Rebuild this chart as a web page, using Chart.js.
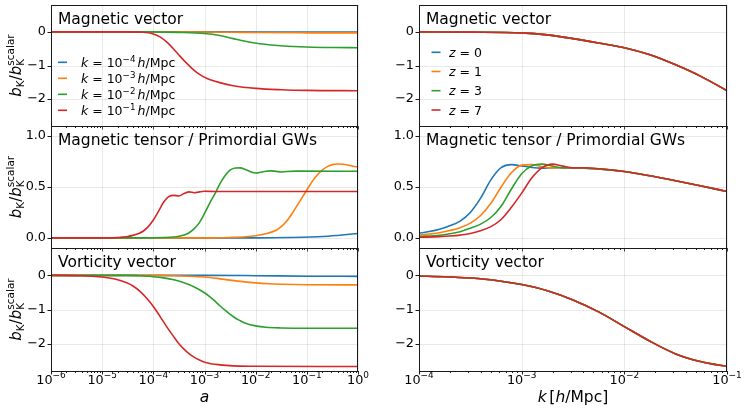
<!DOCTYPE html>
<html>
<head>
<meta charset="utf-8">
<script src="https://cdn.jsdelivr.net/npm/chart.js@4"></script>
<style>
  html, body { margin: 0; padding: 0; background: #fff; }
  #wrap { position: relative; width: 747px; height: 410px; overflow: hidden; }
  #wrap canvas { position: absolute; left: 0; top: 0; }
</style>
</head>
<body>
<div id="wrap"></div>
<script>
// ---- data (x given as log10 of a or k) ----
const A_TICK_EXP = ['−6', '−5', '−4', '−3', '−2', '−1', '0'];
const A_TICK_LOG = [-6, -5, -4, -3, -2, -1, 0];
const K_TICK_EXP = ['−4', '−3', '−2', '−1'];
const K_TICK_LOG = [-4, -3, -2, -1];
const VEC_Y_TICKS = [-2, -1, 0];
const VEC_Y_LABELS = ['−2', '−1', '0'];
const TEN_Y_TICKS = [0, 0.5, 1.0];
const TEN_Y_LABELS = ['0.0', '0.5', '1.0'];
const K_LEGEND_EXP = ['−4', '−3', '−2', '−1'];
const Z_LEGEND = ['0', '1', '3', '7'];
const COLORS = ['#1f77b4', '#ff7f0e', '#2ca02c', '#d62728'];

// Magnetic vector vs a
const magVecA_k4 = [[-6, 0], [-3, 0], [-1, -0.003], [0, -0.005]];
const magVecA_k3 = [[-6, 0], [-4, 0], [-3, -0.004], [-2.5, -0.01], [-2, -0.02], [-1, -0.028], [0, -0.03]];
const magVecA_k2 = [[-6, 0], [-4, 0], [-3.5, -0.015], [-3, -0.05], [-2.7, -0.11], [-2.44, -0.2], [-2.2, -0.28],
  [-1.98, -0.34], [-1.7, -0.39], [-1.46, -0.42], [-1, -0.45], [-0.5, -0.465], [0, -0.47]];
const magVecA_k1 = [[-6, 0], [-4.5, 0], [-4.2, -0.01], [-4, -0.06], [-3.87, -0.15], [-3.74, -0.3], [-3.61, -0.5],
  [-3.48, -0.72], [-3.35, -0.93], [-3.22, -1.12], [-3.09, -1.27], [-2.96, -1.38], [-2.7, -1.51], [-2.44, -1.6],
  [-2, -1.68], [-1.5, -1.72], [-1, -1.74], [0, -1.75]];

// Magnetic tensor vs a
const magTenA_k4 = [[-6, 0], [-2, 0], [-1.33, 0.003], [-0.68, 0.013], [-0.36, 0.026], [0, 0.043]];
const magTenA_k3 = [[-6, 0], [-3, 0], [-2.5, 0.004], [-2.2, 0.01], [-2, 0.02], [-1.8, 0.04], [-1.6, 0.075],
  [-1.5, 0.11], [-1.4, 0.16], [-1.3, 0.23], [-1.2, 0.31], [-1.1, 0.39], [-1, 0.47], [-0.9, 0.55], [-0.8, 0.615],
  [-0.7, 0.665], [-0.6, 0.7], [-0.5, 0.72], [-0.4, 0.726], [-0.3, 0.724], [-0.2, 0.716], [-0.1, 0.705], [0, 0.695]];
const magTenA_k2 = [[-6, 0], [-4.2, 0], [-3.8, 0.003], [-3.6, 0.008], [-3.5, 0.015], [-3.4, 0.027], [-3.3, 0.05],
  [-3.2, 0.09], [-3.1, 0.15], [-3, 0.24], [-2.9, 0.34], [-2.8, 0.43], [-2.7, 0.53], [-2.6, 0.61], [-2.5, 0.665],
  [-2.4, 0.687], [-2.3, 0.688], [-2.2, 0.672], [-2.1, 0.65], [-2, 0.638], [-1.9, 0.645], [-1.8, 0.655],
  [-1.7, 0.659], [-1.6, 0.654], [-1.5, 0.648], [-1.4, 0.652], [-1.2, 0.656], [0, 0.655]];
const magTenA_k1 = [[-6, 0], [-4.8, 0], [-4.7, 0.003], [-4.6, 0.007], [-4.5, 0.013], [-4.4, 0.024], [-4.3, 0.04],
  [-4.2, 0.065], [-4.1, 0.11], [-4, 0.175], [-3.9, 0.26], [-3.8, 0.35], [-3.7, 0.405], [-3.6, 0.418], [-3.5, 0.412],
  [-3.4, 0.435], [-3.3, 0.452], [-3.2, 0.443], [-3.1, 0.452], [-3, 0.458], [-2.8, 0.456], [0, 0.456]];

// Vorticity vector vs a
const vortA_k4 = [[-6, 0], [-3, 0], [-2, -0.01], [-1, -0.025], [0, -0.03]];
const vortA_k3 = [[-6, 0], [-4, 0], [-3.6, -0.01], [-3.3, -0.025], [-3, -0.05], [-2.75, -0.09], [-2.5, -0.14],
  [-2.25, -0.185], [-2, -0.22], [-1.75, -0.245], [-1.5, -0.26], [-1, -0.275], [0, -0.28]];
const vortA_k2 = [[-6, 0], [-4.5, 0], [-4.2, -0.02], [-4, -0.04], [-3.8, -0.075], [-3.6, -0.13], [-3.4, -0.22],
  [-3.2, -0.34], [-3, -0.51], [-2.9, -0.62], [-2.8, -0.75], [-2.7, -0.89], [-2.6, -1.02], [-2.5, -1.14],
  [-2.4, -1.25], [-2.3, -1.33], [-2.2, -1.4], [-2, -1.48], [-1.8, -1.52], [-1.5, -1.54], [-1, -1.55], [0, -1.55]];
const vortA_k1 = [[-6, 0], [-5.5, -0.01], [-5, -0.05], [-4.75, -0.11], [-4.52, -0.22], [-4.39, -0.32], [-4.26, -0.47],
  [-4.13, -0.67], [-4, -0.91], [-3.87, -1.2], [-3.74, -1.5], [-3.61, -1.78], [-3.48, -2.04], [-3.35, -2.23],
  [-3.22, -2.38], [-3.1, -2.48], [-2.98, -2.55], [-2.7, -2.62], [-2.44, -2.65], [-2, -2.66], [0, -2.67]];

// Magnetic vector vs k (the four redshifts lie on top of each other)
const magVecK_z0 = [[-4, 0], [-3.5, -0.008], [-3, -0.03], [-2.75, -0.09], [-2.5, -0.2], [-2.25, -0.33], [-2, -0.47],
  [-1.75, -0.68], [-1.5, -0.98], [-1.25, -1.33], [-1, -1.75]];
const magVecK_z1 = magVecK_z0;
const magVecK_z3 = magVecK_z0;
const magVecK_z7 = magVecK_z0;

// Magnetic tensor vs k
const magTenK_z0 = [[-4, 0.045], [-3.9, 0.062], [-3.8, 0.085], [-3.7, 0.118], [-3.6, 0.165], [-3.5, 0.25],
  [-3.4, 0.39], [-3.3, 0.57], [-3.2, 0.69], [-3.1, 0.72], [-3, 0.708], [-2.9, 0.692], [-2.8, 0.686], [-2.7, 0.69],
  [-2.6, 0.688], [-2.4, 0.685], [-2.25, 0.678], [-2, 0.652], [-1.75, 0.61], [-1.5, 0.562], [-1.25, 0.51], [-1, 0.456]];
const magTenK_z1 = [[-4, 0.027], [-3.9, 0.037], [-3.8, 0.05], [-3.7, 0.072], [-3.6, 0.1], [-3.5, 0.145], [-3.4, 0.22],
  [-3.3, 0.34], [-3.2, 0.5], [-3.1, 0.64], [-3, 0.715], [-2.9, 0.72], [-2.8, 0.7], [-2.7, 0.688], [-2.6, 0.69],
  [-2.5, 0.69], [-2.4, 0.686], [-2.25, 0.678], [-2, 0.652], [-1.75, 0.61], [-1.5, 0.562], [-1.25, 0.51], [-1, 0.456]];
const magTenK_z3 = [[-4, 0.013], [-3.8, 0.025], [-3.7, 0.04], [-3.6, 0.06], [-3.5, 0.095], [-3.4, 0.135], [-3.3, 0.2],
  [-3.2, 0.31], [-3.1, 0.48], [-3, 0.63], [-2.9, 0.71], [-2.8, 0.725], [-2.7, 0.705], [-2.6, 0.69], [-2.5, 0.69],
  [-2.4, 0.688], [-2.25, 0.678], [-2, 0.652], [-1.75, 0.61], [-1.5, 0.562], [-1.25, 0.51], [-1, 0.456]];
const magTenK_z7 = [[-4, 0.005], [-3.8, 0.012], [-3.7, 0.018], [-3.6, 0.027], [-3.5, 0.042], [-3.4, 0.07], [-3.3, 0.11],
  [-3.2, 0.18], [-3.1, 0.3], [-3, 0.44], [-2.9, 0.59], [-2.8, 0.69], [-2.7, 0.725], [-2.6, 0.705], [-2.5, 0.688],
  [-2.4, 0.69], [-2.25, 0.68], [-2, 0.652], [-1.75, 0.61], [-1.5, 0.562], [-1.25, 0.51], [-1, 0.456]];

// Vorticity vector vs k
const vortK_z0 = [[-4, -0.02], [-3.75, -0.04], [-3.5, -0.08], [-3.25, -0.15], [-3, -0.27], [-2.75, -0.45],
  [-2.5, -0.72], [-2.25, -1.07], [-2, -1.5], [-1.75, -1.93], [-1.5, -2.3], [-1.25, -2.53], [-1, -2.67]];
const vortK_z1 = vortK_z0;
const vortK_z3 = vortK_z0;
const vortK_z7 = vortK_z0;

// ---- layout ----
const W = 747, H = 410;
const COLS = [{ l: 51, r: 358 }, { l: 419, r: 727 }];
const ROWS = [{ t: 5, b: 126 }, { t: 126, b: 248 }, { t: 248, b: 371 }];
const FONT = '"DejaVu Sans", "Liberation Sans", sans-serif';
const VEC_RANGE = [-2.8, 0.8];
const TEN_RANGE = [-0.1, 1.1];

const panels = [
  { col: 0, row: 0, title: 'Magnetic vector', series: [magVecA_k4, magVecA_k3, magVecA_k2, magVecA_k1], y: 'vec', legend: 'k' },
  { col: 1, row: 0, title: 'Magnetic vector', series: [magVecK_z0, magVecK_z1, magVecK_z3, magVecK_z7], y: 'vec', legend: 'z' },
  { col: 0, row: 1, title: 'Magnetic tensor / Primordial GWs', series: [magTenA_k4, magTenA_k3, magTenA_k2, magTenA_k1], y: 'ten' },
  { col: 1, row: 1, title: 'Magnetic tensor / Primordial GWs', series: [magTenK_z0, magTenK_z1, magTenK_z3, magTenK_z7], y: 'ten' },
  { col: 0, row: 2, title: 'Vorticity vector', series: [vortA_k4, vortA_k3, vortA_k2, vortA_k1], y: 'vec' },
  { col: 1, row: 2, title: 'Vorticity vector', series: [vortK_z0, vortK_z1, vortK_z3, vortK_z7], y: 'vec' },
];

// draws a run of text pieces (italic / sub / superscript)
function fontOf(p, base) {
  return (p.it ? 'italic ' : '') + ((p.s || 1) * base).toFixed(2) + 'px ' + FONT;
}
function richWidth(ctx, parts, base) {
  let w = 0, pending = 0;
  for (const p of parts) {
    ctx.font = fontOf(p, base);
    const pw = ctx.measureText(p.t).width + (p.gap || 0) * base;
    if (p.keep) pending = pw;
    else { w += Math.max(pw, pending); pending = 0; }
  }
  return w + pending;
}
function drawRich(ctx, parts, x, y, base) {
  let cx = x, pending = 0;
  for (const p of parts) {
    ctx.font = fontOf(p, base);
    ctx.fillText(p.t, cx + (p.gap || 0) * base, y + (p.dy || 0) * base);
    const pw = ctx.measureText(p.t).width + (p.gap || 0) * base;
    if (p.keep) pending = pw;
    else { cx += Math.max(pw, pending); pending = 0; }
  }
}

const panelPlugin = {
  id: 'panel',
  beforeDatasetsDraw(chart, args, o) {
    const ctx = chart.ctx, a = chart.chartArea;
    const xs = chart.scales.x, ys = chart.scales.y;
    ctx.save();
    ctx.strokeStyle = 'rgba(176,176,176,0.35)';
    ctx.lineWidth = 0.8;
    ctx.beginPath();
    for (const lg of o.xTicks) {
      const px = Math.round(xs.getPixelForValue(10 ** lg)) + 0.5;
      ctx.moveTo(px, a.top); ctx.lineTo(px, a.bottom);
    }
    for (const v of o.yTicks) {
      const py = Math.round(ys.getPixelForValue(v)) + 0.5;
      ctx.moveTo(a.left, py); ctx.lineTo(a.right, py);
    }
    ctx.stroke();
    ctx.restore();
  },
  afterDatasetsDraw(chart, args, o) {
    const ctx = chart.ctx, a = chart.chartArea;
    const xs = chart.scales.x, ys = chart.scales.y;
    ctx.save();
    // spines
    ctx.strokeStyle = '#1a1a1a';
    ctx.lineWidth = 1;
    ctx.strokeRect(a.left + 0.5, a.top + 0.5, a.right - a.left - 1, a.bottom - a.top);
    // x ticks (major + minor) below the panel
    ctx.beginPath();
    const lo = o.xTicks[0], hi = o.xTicks[o.xTicks.length - 1];
    for (let d = lo; d <= hi; d++) {
      const px = Math.round(xs.getPixelForValue(10 ** d)) + 0.5;
      ctx.moveTo(px, a.bottom); ctx.lineTo(px, a.bottom + 3.5);
      if (d < hi) {
        for (let m = 2; m <= 9; m++) {
          const qx = Math.round(xs.getPixelForValue(m * 10 ** d)) + 0.5;
          ctx.moveTo(qx, a.bottom); ctx.lineTo(qx, a.bottom + 2);
        }
      }
    }
    // y ticks
    for (const v of o.yTicks) {
      const py = Math.round(ys.getPixelForValue(v)) + 0.5;
      ctx.moveTo(a.left - 3.5, py); ctx.lineTo(a.left, py);
    }
    ctx.stroke();

    ctx.fillStyle = '#000';
    ctx.textBaseline = 'middle';
    ctx.textAlign = 'right';
    ctx.font = '12.8px ' + FONT;
    o.yTicks.forEach((v, i) => ctx.fillText(o.yLabels[i], a.left - 5, ys.getPixelForValue(v)));

    ctx.textBaseline = 'alphabetic';
    ctx.textAlign = 'left';
    if (o.xLabels) {
      o.xTicks.forEach((lg, i) => {
        const parts = [{ t: '10' }, { t: o.xLabels[i], s: 0.7, dy: -0.45 }];
        const w = richWidth(ctx, parts, 12.8);
        drawRich(ctx, parts, xs.getPixelForValue(10 ** lg) - w / 2, a.bottom + 12.5, 12.8);
      });
      const cx = (a.left + a.right) / 2;
      const w = richWidth(ctx, o.xTitle, 15.5);
      drawRich(ctx, o.xTitle, cx - w / 2, a.bottom + 30.5, 15.5);
    }
    // panel title
    ctx.font = '15.5px ' + FONT;
    ctx.fillText(o.title, a.left + 7, a.top + 18.5);
    // y axis label
    if (o.yTitle) {
      const parts = [{ t: 'b', it: 1 }, { t: 'K', s: 0.7, dy: 0.2 }, { t: '/' }, { t: 'b', it: 1 },
        { t: 'K', s: 0.7, dy: 0.2, keep: 1 }, { t: 'scalar', s: 0.7, dy: -0.45 }];
      const w = richWidth(ctx, parts, 15);
      ctx.translate(21, (a.top + a.bottom) / 2);
      ctx.rotate(-Math.PI / 2);
      drawRich(ctx, parts, -w / 2, 0, 15);
      ctx.setTransform(1, 0, 0, 1, 0, 0);
    }
    // legend
    if (o.legend) {
      const lg = o.legend;
      lg.rows.forEach((parts, i) => {
        const yy = lg.y[i];
        ctx.strokeStyle = COLORS[i];
        ctx.lineWidth = 1.6;
        ctx.beginPath();
        ctx.moveTo(lg.x0, yy); ctx.lineTo(lg.x1, yy);
        ctx.stroke();
        ctx.fillStyle = '#000';
        drawRich(ctx, parts, lg.tx, yy + 4.5, 12.5);
      });
    }
    ctx.restore();
  }
};

const wrap = document.getElementById('wrap');
panels.forEach(p => {
  const c = document.createElement('canvas');
  c.width = W; c.height = H;
  wrap.appendChild(c);
  const col = COLS[p.col], row = ROWS[p.row];
  const xLog = p.col === 0 ? A_TICK_LOG : K_TICK_LOG;
  const range = p.y === 'vec' ? VEC_RANGE : TEN_RANGE;
  let legend = null;
  if (p.legend === 'k') {
    legend = {
      x0: 58, x1: 67, tx: 81, y: [62.3, 78.3, 94.3, 110.3],
      rows: K_LEGEND_EXP.map(e => [{ t: 'k', it: 1 }, { t: ' = 10' }, { t: e, s: 0.7, dy: -0.42 },
        { t: 'h', it: 1, gap: 0.17 }, { t: '/Mpc' }])
    };
  } else if (p.legend === 'z') {
    legend = {
      x0: 431.5, x1: 440.5, tx: 449, y: [52.3, 71.5, 90.7, 110],
      rows: Z_LEGEND.map(z => [{ t: 'z', it: 1 }, { t: ' = ' + z }])
    };
  }
  new Chart(c, {
    type: 'line',
    data: {
      datasets: p.series.map((s, i) => ({
        data: s.map(([lx, y]) => ({ x: 10 ** lx, y: y })),
        borderColor: COLORS[i],
        borderWidth: 1.6,
        pointRadius: 0,
        fill: false,
        cubicInterpolationMode: 'monotone',
        order: 3 - i
      }))
    },
    options: {
      responsive: false,
      animation: false,
      events: [],
      layout: { padding: { left: col.l, right: W - col.r, top: row.t, bottom: H - row.b } },
      scales: {
        x: { type: 'logarithmic', min: 10 ** xLog[0], max: 10 ** xLog[xLog.length - 1], display: false },
        y: { type: 'linear', min: range[0], max: range[1], display: false }
      },
      plugins: {
        legend: { display: false },
        tooltip: { enabled: false },
        panel: {
          title: p.title,
          xTicks: xLog,
          yTicks: p.y === 'vec' ? VEC_Y_TICKS : TEN_Y_TICKS,
          yLabels: p.y === 'vec' ? VEC_Y_LABELS : TEN_Y_LABELS,
          xLabels: p.row === 2 ? (p.col === 0 ? A_TICK_EXP : K_TICK_EXP) : null,
          xTitle: p.col === 0 ? [{ t: 'a', it: 1 }]
            : [{ t: 'k', it: 1 }, { t: '[', gap: 0.17 }, { t: 'h', it: 1 }, { t: '/Mpc]' }],
          yTitle: p.col === 0,
          legend: legend
        }
      }
    },
    plugins: [panelPlugin]
  });
});
</script>
</body>
</html>
